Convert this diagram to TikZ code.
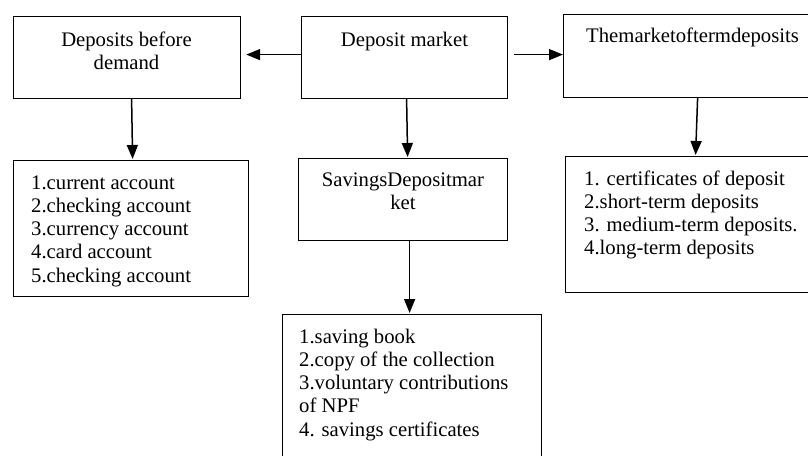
\documentclass[tikz,border=0pt]{standalone}
\usepackage{fontspec}
\setmainfont{Liberation Serif}
\usetikzlibrary{arrows.meta}
\tikzset{
  box/.style={draw, line width=1.2pt, inner sep=0pt, anchor=north west},
  txt/.style={inner sep=0pt, font=\fontsize{20.7}{23.3}\selectfont},
  arr/.style={line width=1.5pt, -{Triangle[length=14pt,width=11pt]}},
}
\begin{document}
\begin{tikzpicture}[x=1pt,y=-1pt]
\clip (0,0) rectangle (808,455);
\fill[white] (0,0) rectangle (808,455);
% boxes
\node[box, minimum width=227pt, minimum height=82pt] (b1) at (13,16) {};
\node[box, minimum width=206pt, minimum height=82pt] (b2) at (301,16) {};
\node[box, minimum width=270pt, minimum height=83pt] (b3) at (563,14) {};
\node[box, minimum width=235pt, minimum height=136pt] (b4) at (13,160) {};
\node[box, minimum width=209pt, minimum height=82pt] (b5) at (298,158) {};
\node[box, minimum width=270pt, minimum height=136pt] (b6) at (565,156) {};
\node[box, minimum width=259pt, minimum height=170pt] (b7) at (282,314) {};
% texts
\node[txt, anchor=base] (t1) at (126.5,46) {\begin{tabular}[t]{@{}c@{}}Deposits before\\demand\end{tabular}};
\node[txt, anchor=base] (t2) at (404.5,46) {Deposit market};
\node[txt, anchor=base west] (t3) at (586,42.5) {Themarketoftermdeposits};
\node[txt, anchor=base west] (t4) at (31,189) {\begin{tabular}[t]{@{}l@{}}1.current account\\2.checking account\\3.currency account\\4.card account\\5.checking account\end{tabular}};
\node[txt, anchor=base] (t5) at (403,186) {\begin{tabular}[t]{@{}c@{}}SavingsDepositmar\\ket\end{tabular}};
\node[txt, anchor=base west] (t6) at (584,185) {\begin{tabular}[t]{@{}l@{}}1. certificates of deposit\\2.short-term deposits\\3. medium-term deposits.\\4.long-term deposits\end{tabular}};
\node[txt, anchor=base west] (t7) at (299,343) {\begin{tabular}[t]{@{}l@{}}1.saving book\\2.copy of the collection\\3.voluntary contributions\\of NPF\\4. savings certificates\end{tabular}};
% connectors
\draw[arr] ([yshift=3pt]b2.west) -- ([xshift=5pt,yshift=3pt]b1.east);
\draw[arr] ([xshift=6pt,yshift=3pt]b2.east) -- ([yshift=1.5pt]b3.west);
\draw[arr] ([xshift=4.5pt]b1.south) -- ([xshift=1.5pt,yshift=1pt]b4.north);
\draw[arr] ([xshift=2pt]b2.south) -- ([xshift=4.5pt,yshift=1pt]b5.north);
\draw[arr] ([xshift=-1pt]b3.south) -- ([xshift=-5pt,yshift=1pt]b6.north);
\draw[arr] ([xshift=6.5pt]b5.south) -- ([xshift=-2.5pt,yshift=1pt]b7.north);
\end{tikzpicture}
\end{document}
